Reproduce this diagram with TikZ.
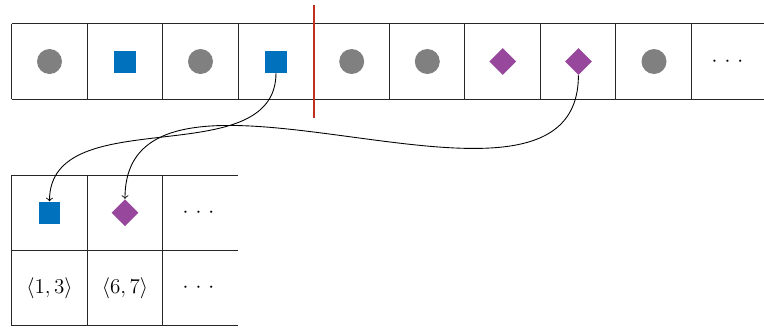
\documentclass[tikz,border=0pt]{standalone}
\usetikzlibrary{shapes.geometric}
\definecolor{cgray}{RGB}{128,128,128}
\definecolor{cblue}{RGB}{0,114,189}
\definecolor{cpurple}{RGB}{152,72,156}
\definecolor{cred}{RGB}{192,48,32}
\newcommand{\mydots}{$\cdot\mkern2mu\cdot\mkern2mu\cdot$}
\begin{document}
\begin{tikzpicture}[x={(0.02cm,0)},y={(0,-0.02cm)},
  grid/.style={draw=black!85,line width=0.45pt},
  circ/.style={circle,fill=cgray,inner sep=0pt,minimum size=0.5cm},
  sq/.style={rectangle,fill=cblue,inner sep=0pt,minimum size=0.44cm},
  dia/.style={diamond,fill=cpurple,inner sep=0pt,minimum width=0.54cm,minimum height=0.54cm},
  txt/.style={inner sep=0pt,font=\large},
  link/.style={->,black,line width=0.5pt}]
\useasboundingbox (0,0) rectangle (764,329);
% top row grid
\draw[grid] (11.7,23.7) -- (764,23.7);
\draw[grid] (11.7,99.3) -- (764,99.3);
\foreach \k in {0,...,9} {
  \draw[grid] ({11.7+\k*75.5},23.7) -- ({11.7+\k*75.5},99.3);
}
% top row items
\node[circ] (t1) at (49.5,61.5) {};
\node[sq]   (t2) at (125,61.5) {};
\node[circ] (t3) at (200.5,61.5) {};
\node[sq]   (t4) at (276,61.5) {};
\node[circ] (t5) at (351.7,61.5) {};
\node[circ] (t6) at (427.3,61.5) {};
\node[dia]  (t7) at (502.8,61.5) {};
\node[dia]  (t8) at (578.4,61.5) {};
\node[circ] (t9) at (654,61.5) {};
\node[txt]  (t10) at (727.5,61.5) {\mydots};
% red split line
\coordinate (rtop) at (313.7,5);
\coordinate (rbot) at (313.7,118);
\draw[cred,line width=1.1pt] (rtop) -- (rbot);
% bottom table grid
\draw[grid] (11.7,175) -- (238.3,175);
\draw[grid] (11.7,250.3) -- (238.3,250.3);
\draw[grid] (11.7,325.7) -- (238.3,325.7);
\foreach \xx in {11.7,87.3,162.7} {
  \draw[grid] (\xx,175) -- (\xx,325.7);
}
% bottom items
\node[sq]  (b1) at (49.5,212.7) {};
\node[dia] (b2) at (125,212.7) {};
\node[txt] (b3) at (198.5,212.7) {\mydots};
\node[txt] (l1) at (49.5,288) {$\langle 1,3\rangle$};
\node[txt] (l2) at (125,288) {$\langle 6,7\rangle$};
\node[txt] (l3) at (198.5,288) {\mydots};
% connectors
\draw[link] (t4.south) to[out=-90,in=90] (b1.north);
\draw[link] (t8.south) to[out=-90,in=90] (b2.north);
\end{tikzpicture}
\end{document}
